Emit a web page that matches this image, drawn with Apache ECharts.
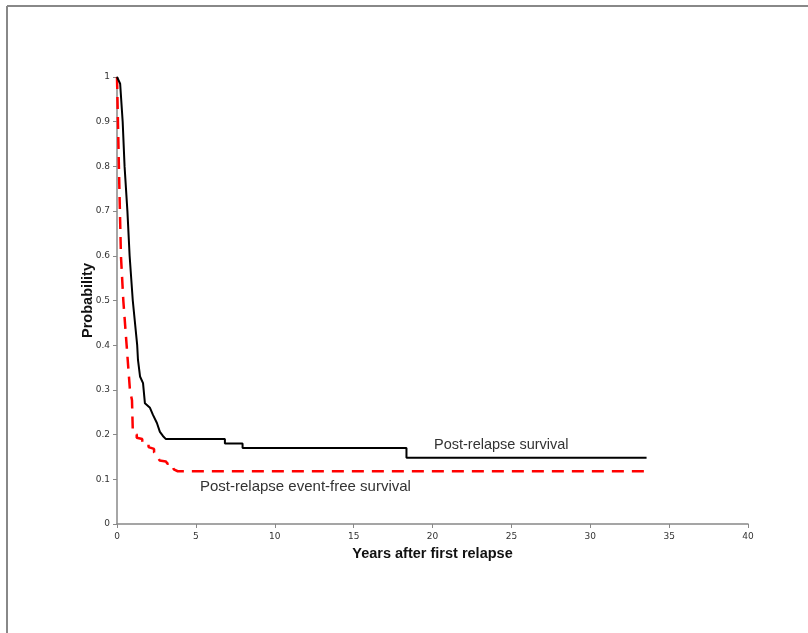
<!DOCTYPE html>
<html><head><meta charset="utf-8">
<script src="https://cdn.jsdelivr.net/npm/echarts@6/dist/echarts.min.js"></script>
<style>html,body{margin:0;padding:0;background:#fff}#c{width:808px;height:633px}</style>
</head><body><div id="c"></div>
<script>
const xTicks = [0,5,10,15,20,25,30,35,40];
const yTicks = [0,0.1,0.2,0.3,0.4,0.5,0.6,0.7,0.8,0.9,1];
const survivalYears = [0,0.1,0.2,0.36,0.48,0.66,0.8,1.0,1.28,1.33,1.46,1.65,1.77,2.09,2.28,2.53,2.72,2.91,3.1,6.84,6.84,7.96,7.96,18.35,18.35,33.57];
const survivalProb  = [1,1,0.985,0.9,0.8,0.7,0.6,0.5,0.4,0.367,0.33,0.315,0.27,0.26,0.244,0.226,0.206,0.197,0.19,0.19,0.18,0.18,0.17,0.17,0.148,0.148];
const efsYears = [0,0.12,0.25,0.4,0.61,0.82,0.95,1.0,1.0,1.25,1.25,1.6,1.6,2.0,2.0,2.35,2.35,2.6,2.7,3.1,3.2,3.5,3.6,3.85,33.57];
const efsProb  = [1,0.8,0.6,0.5,0.4,0.3,0.277,0.21,0.205,0.2,0.193,0.19,0.183,0.18,0.172,0.168,0.16,0.15,0.142,0.14,0.135,0.135,0.122,0.118,0.118];
const survivalLabel = 'Post-relapse survival';
const efsLabel = 'Post-relapse event-free survival';

const chart = echarts.init(document.getElementById('c'));
const zip = (a,b)=>a.map((v,i)=>[v,b[i]]);
chart.setOption({
  animation:false,
  backgroundColor:'#fff',
  grid:{left:117,right:60,top:77,bottom:109},
  xAxis:{type:'value',min:0,max:40,interval:5,
    name:'Years after first relapse',nameLocation:'middle',nameGap:22,
    nameTextStyle:{fontFamily:'Liberation Sans',fontWeight:'bold',fontSize:14.5,color:'#111'},
    axisLine:{lineStyle:{color:'#888',width:1.5}},
    axisTick:{show:true,length:4,lineStyle:{color:'#888'}},
    axisLabel:{fontFamily:'DejaVu Sans',fontSize:9,color:'#333',margin:8,formatter:v=>xTicks.includes(v)?String(v):''},
    splitLine:{show:false}},
  yAxis:{type:'value',min:0,max:1,interval:0.1,
    name:'Probability',nameLocation:'middle',nameGap:22,nameRotate:90,nameMoveOverlap:false,
    nameTextStyle:{fontFamily:'Liberation Sans',fontWeight:'bold',fontSize:14.5,color:'#111'},
    axisLine:{show:true,lineStyle:{color:'#888',width:1.5}},
    axisTick:{show:true,length:4,lineStyle:{color:'#888'}},
    axisLabel:{fontFamily:'DejaVu Sans',fontSize:9,color:'#333',margin:7,
      formatter:v=>{const t=yTicks.find(k=>Math.abs(k-v)<1e-9);return t===undefined?'':String(+t.toFixed(1));}},
    splitLine:{show:false}},
  series:[
    {type:'line',data:zip(efsYears,efsProb),showSymbol:false,symbol:'none',
      lineStyle:{color:'#ff0000',width:2.5,type:[12,8]},z:2},
    {type:'line',data:zip(survivalYears,survivalProb),showSymbol:false,symbol:'none',
      lineStyle:{color:'#000',width:2},z:3}
  ],
  graphic:[
    {type:'line',shape:{x1:7,y1:6,x2:808,y2:6},style:{stroke:'#888',lineWidth:2},silent:true},
    {type:'line',shape:{x1:7,y1:6,x2:7,y2:633},style:{stroke:'#888',lineWidth:2},silent:true},
    {type:'text',left:434,top:437,style:{text:survivalLabel,font:'14.5px "Liberation Sans"',fill:'#333'}},
    {type:'text',left:200,top:479,style:{text:efsLabel,font:'15px "Liberation Sans"',fill:'#333'}}
  ]
});
</script></body></html>
